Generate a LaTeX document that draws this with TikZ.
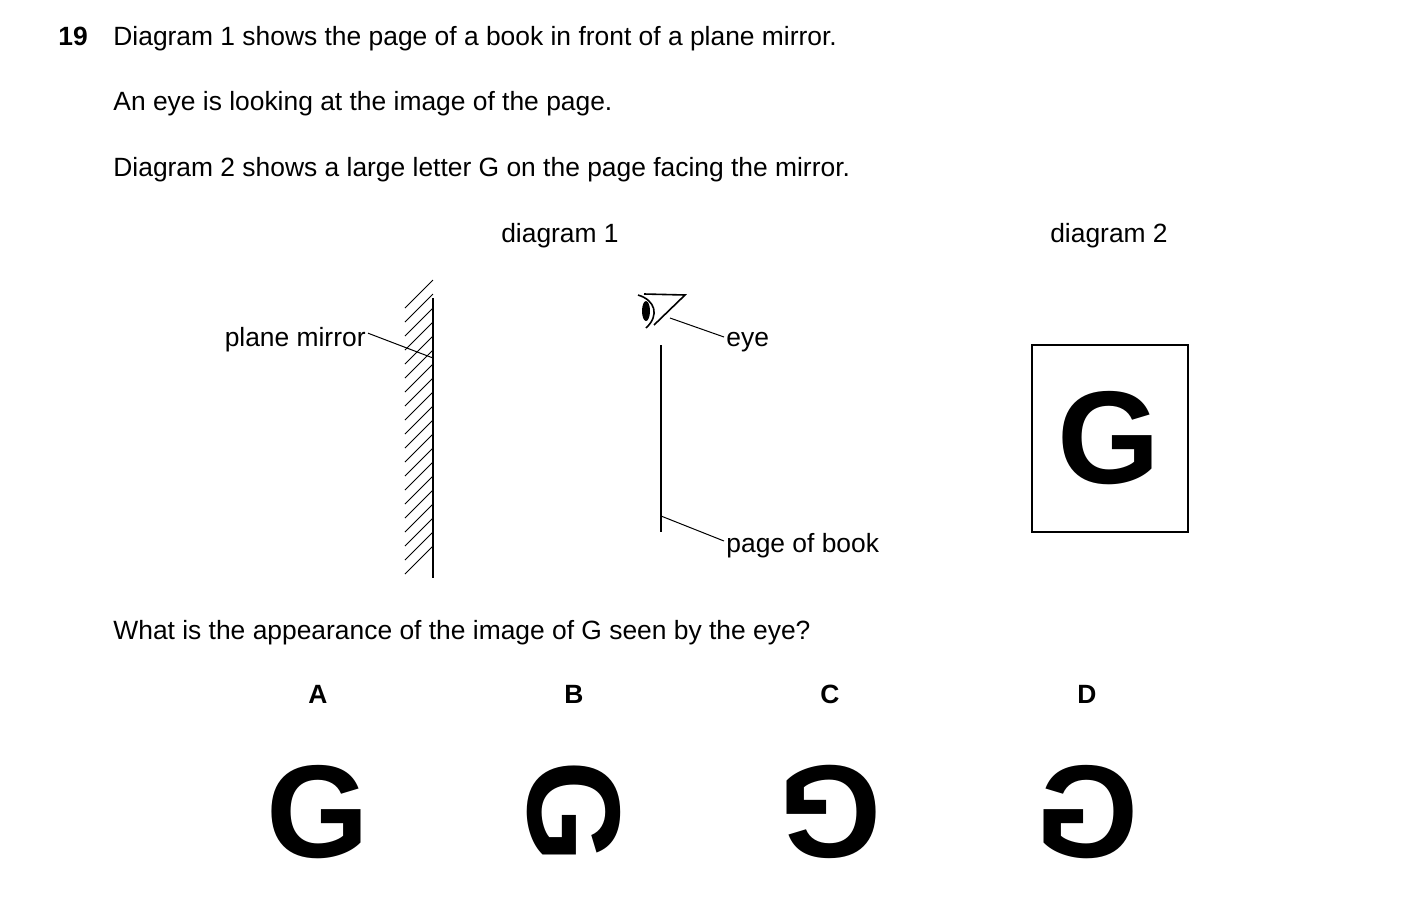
\documentclass[tikz,border=0pt]{standalone}
\usepackage{fontspec}
\setmainfont{Liberation Sans}
\usepackage{graphicx}
\begin{document}
\begin{tikzpicture}[x=0.5pt,y=-0.5pt,
  txt/.style={anchor=base west,inner sep=0,font=\fontsize{13.2}{16}\selectfont},
  ctr/.style={anchor=base,inner sep=0,font=\fontsize{13.2}{16}\selectfont},
  lab/.style={anchor=base,inner sep=0,font=\fontsize{13.2}{16}\selectfont\bfseries},
  bigG/.style={inner sep=0,font=\fontsize{66}{70}\selectfont\bfseries},
  thin/.style={line width=0.5pt}]
\useasboundingbox (0,0) rectangle (1403,906);
\node[lab,anchor=base west] (q) at (58,45) {19};
\node[txt] (t1) at (113,45) {Diagram 1 shows the page of a book in front of a plane mirror.};
\node[txt] (t2) at (113,110) {An eye is looking at the image of the page.};
\node[txt] (t3) at (113,176) {Diagram 2 shows a large letter G on the page facing the mirror.};
\node[ctr] (d1) at (560,242) {diagram 1};
\node[ctr] (d2) at (1109,242) {diagram 2};
% mirror
\coordinate (m1) at (433,298); \coordinate (m2) at (433,578);
\draw[line width=1.2pt] (m1) -- (m2);
\foreach \y in {308,322,...,578} \draw[thin] (405,\y) -- (433,\y-28);
\node[txt,anchor=base east] (pm) at (366,346) {plane mirror};
\coordinate (pmc) at (433,358);
\draw[thin] (pm.east) ++(2,-6) -- (pmc);
% page
\coordinate (p1) at (661,345); \coordinate (p2) at (661,532);
\draw[line width=1pt] (p1) -- (p2);
\node[txt] (pob) at (726,552) {page of book};
\coordinate (pc) at (661,516);
\draw[thin] (pc) -- (724,541);
% eye
\fill (646,311) ellipse (4 and 10);
\draw[line width=0.8pt] (638,295) .. controls (655,300) and (660,315) .. (646,328);
\draw[line width=0.8pt] (644,294) -- (685,295) -- (654,325);
\node[txt] (eye) at (726,346) {eye};
\coordinate (ec) at (670,318);
\draw[thin] (ec) -- (724,337);
% diagram 2
\draw[line width=0.8pt] (1032,345) rectangle (1188,532);
\node[bigG] (g0) at (1109,438) {G};
\node[lab] (A) at (318,703) {A};
\node[lab] (B) at (574,703) {B};
\node[lab] (C) at (830,703) {C};
\node[lab] (D) at (1087,703) {D};
\node[bigG] (ga) at (318,812) {G};
\node[bigG] (gb) at (574,812) {\rotatebox{-90}{G}};
\node[bigG] (gc) at (830,812) {\rotatebox{180}{G}};
\node[bigG] (gd) at (1087,812) {\scalebox{-1}[1]{G}};
\node[txt] (t4) at (113,639) {What is the appearance of the image of G seen by the eye?};
\end{tikzpicture}
\end{document}
